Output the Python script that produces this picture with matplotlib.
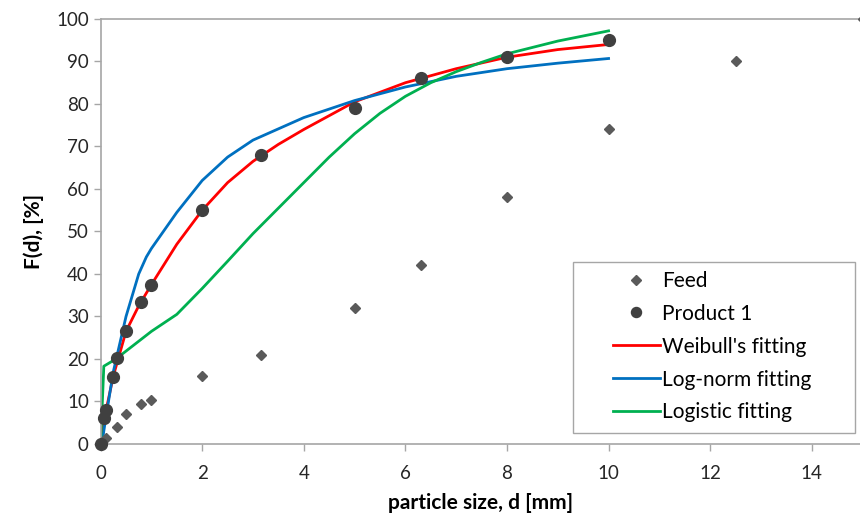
import numpy as np
import matplotlib.pyplot as plt
from matplotlib.patches import Rectangle

plt.rcParams['font.family'] = ['Lato', 'DejaVu Sans']

# 数据
feed_x = [0, 0.1, 0.315, 0.5, 0.8, 1.0, 2.0, 3.15, 5.0, 6.3, 8.0, 10.0, 12.5, 15.0]
feed_y = [0, 1.3, 4.0, 7.0, 9.5, 10.4, 16.0, 21.0, 32.0, 42.0, 58.0, 74.0, 90.0, 100.0]

prod_x = [0, 0.063, 0.1, 0.25, 0.315, 0.5, 0.8, 1.0, 2.0, 3.15, 5.0, 6.3, 8.0, 10.0]
prod_y = [0, 6.0, 8.0, 15.8, 20.3, 26.7, 33.4, 37.5, 55.0, 68.0, 79.0, 86.0, 91.0, 95.0]

weib_x = [0, 0.05, 0.1, 0.25, 0.5, 0.75, 1.0, 1.5, 2.0, 2.5, 3.0, 3.5, 4.0, 5.0, 6.0, 7.0, 8.0, 9.0, 10.0]
weib_y = [0, 4.4, 7.5, 16.0, 26.5, 32.5, 37.5, 47.0, 55.0, 61.5, 66.5, 70.5, 74.0, 80.5, 85.0, 88.3, 91.0, 92.8, 94.0]

logn_x = [0, 0.05, 0.1, 0.25, 0.5, 0.75, 0.9, 1.0, 1.5, 2.0, 2.5, 3.0, 4.0, 5.0, 6.0, 7.0, 8.0, 9.0, 10.0]
logn_y = [0, 2.0, 6.0, 17.0, 30.0, 40.0, 44.0, 46.0, 54.5, 62.0, 67.5, 71.5, 76.8, 80.8, 84.0, 86.5, 88.3, 89.6, 90.7]

logi_x = [0, 0.063, 0.3, 1.0, 1.5, 2.0, 2.5, 3.0, 3.5, 4.0, 4.5, 5.0, 5.5, 6.0, 6.5, 7.0, 7.5, 8.0, 9.0, 10.0]
logi_y = [0, 18.3, 20.0, 26.5, 30.5, 36.6, 43.0, 49.5, 55.5, 61.5, 67.5, 73.0, 77.8, 81.8, 85.0, 87.6, 89.8, 91.8, 94.8, 97.2]

fig = plt.figure(figsize=(8.6, 5.27), dpi=100)
ax = fig.add_axes([0.117, 0.1575, 0.883, 0.8065])

ax.plot(feed_x, feed_y, linestyle='none', marker='D', markersize=5.5,
        color='#5a5a5a', label='Feed', clip_on=False, zorder=3)
ax.plot(prod_x, prod_y, linestyle='none', marker='o', markersize=8.5,
        color='#404040', label='Product 1', clip_on=False, zorder=4)
ax.plot(weib_x, weib_y, color='#ff0000', lw=2.0, label="Weibull's fitting", zorder=2)
ax.plot(logn_x, logn_y, color='#0070c0', lw=2.0, label='Log-norm fitting', zorder=2)
ax.plot(logi_x, logi_y, color='#00b050', lw=2.0, label='Logistic fitting', zorder=2)

ax.set_xlim(0, 14.95)
ax.set_ylim(0, 100)
ax.set_xticks(np.arange(0, 15, 2))
ax.set_yticks(np.arange(0, 101, 10))

for s in ['left', 'bottom', 'top']:
    ax.spines[s].set_color('#a6a6a6')
    ax.spines[s].set_linewidth(1.2)
ax.spines['right'].set_visible(False)
ax.tick_params(axis='both', colors='#a6a6a6', labelcolor='#262626',
               labelsize=13.5, length=5, width=1)
ax.tick_params(axis='x', pad=10)

ax.set_xlabel('particle size, d [mm]', fontsize=15, fontweight='bold', labelpad=8)
ax.set_ylabel('F(d), [%]', fontsize=15, fontweight='bold', labelpad=9)

# 图例框单独画，内容居中偏右（类似 Excel 的样式）
ax.add_patch(Rectangle((0.622, 0.026), 0.371, 0.402, transform=ax.transAxes,
                       facecolor='white', edgecolor='#a6a6a6', lw=1.0, zorder=5))
leg = ax.legend(loc='center left', bbox_to_anchor=(0.6746, 0.229), fontsize=15,
                frameon=False, handlelength=2.25, handletextpad=0.12,
                borderpad=0, borderaxespad=0, labelspacing=0.62, markerscale=0.85)
leg.set_zorder(6)

fig.savefig('out.png', dpi=100)
